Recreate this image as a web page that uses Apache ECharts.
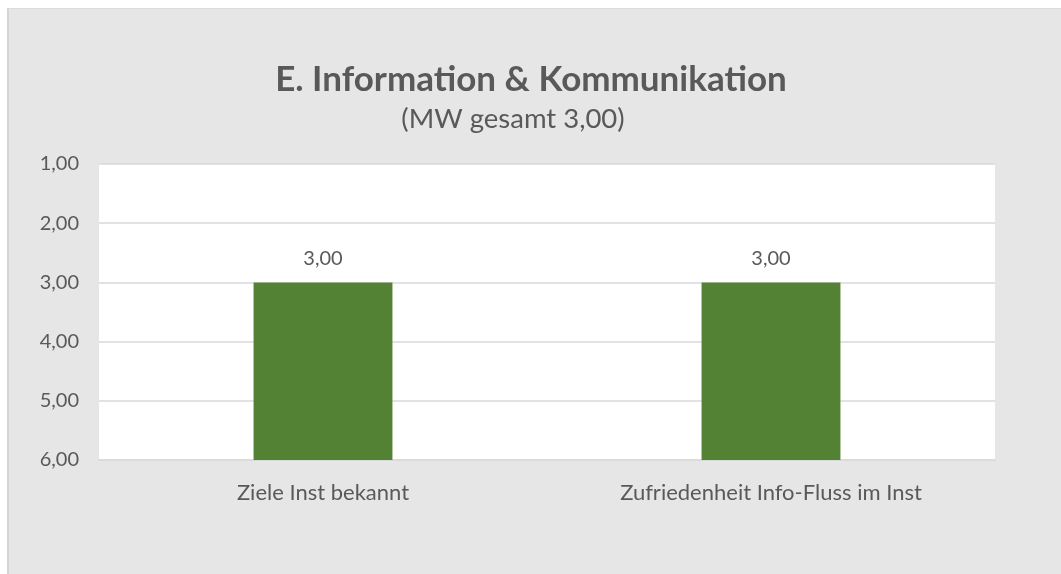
<!DOCTYPE html>
<html>
<head>
<meta charset="utf-8">
<script src="https://cdn.jsdelivr.net/npm/echarts@6/dist/echarts.min.js"></script>
<style>
  html, body { margin: 0; padding: 0; background: #fff; }
  #frame {
    position: absolute; left: 7px; top: 8px; width: 1054px; height: 566px;
    background: #e6e6e6; border-left: 2px solid #d4d4d4; border-top: 1px solid #dcdcdc;
    box-sizing: border-box;
  }
  #chart { position: absolute; left: 0; top: 0; width: 1061px; height: 574px; }
</style>
</head>
<body>
<div id="frame"></div>
<div id="chart"></div>
<script>
// Kategorien und Mittelwerte (Skala 1 = best, 6 = schlecht)
const categories = ['Ziele Inst bekannt', 'Zufriedenheit Info-Fluss im Inst']
const values = [3.00, 3.00]
const scaleMin = 1
const scaleMax = 6

const fmt = v => v.toFixed(2).replace('.', ',')
const textColor = '#595959'
const font = 'Lato'

const myChart = echarts.init(document.getElementById('chart'))

const option = {
  backgroundColor: 'transparent',
  textStyle: { fontFamily: font },
  title: [
    {
      text: 'E. Information & Kommunikation',
      left: 531,
      textAlign: 'center',
      top: 62,
      padding: 0,
      textStyle: { fontFamily: font, fontSize: 35, fontWeight: 'bold', color: textColor }
    },
    {
      text: '(MW gesamt ' + fmt(3.00) + ')',
      left: 513,
      textAlign: 'center',
      top: 105,
      padding: 0,
      textStyle: { fontFamily: font, fontSize: 27.5, fontWeight: 'normal', color: textColor }
    }
  ],
  grid: {
    left: 99,
    right: 66,
    top: 164,
    bottom: 114,
    show: true,
    backgroundColor: '#ffffff',
    borderWidth: 0
  },
  xAxis: {
    type: 'category',
    data: categories,
    axisLine: { lineStyle: { color: '#d9d9d9', width: 1.5 } },
    axisTick: { show: false },
    axisLabel: { color: textColor, fontSize: 22, fontFamily: font, margin: 22 }
  },
  yAxis: {
    type: 'value',
    inverse: true,
    min: scaleMin,
    max: scaleMax,
    interval: 1,
    axisLine: { show: false },
    axisTick: { show: false },
    splitLine: { lineStyle: { color: '#d9d9d9', width: 1.5 } },
    axisLabel: { color: textColor, fontSize: 20, fontFamily: font, margin: 20, formatter: fmt }
  },
  series: [
    {
      // unsichtbarer Sockel bis zum Mittelwert
      name: 'base',
      type: 'bar',
      stack: 'mw',
      silent: true,
      barWidth: '31%',
      itemStyle: { color: 'transparent' },
      data: values
    },
    {
      name: 'MW',
      type: 'bar',
      stack: 'mw',
      barWidth: '31%',
      itemStyle: { color: '#548235' },
      label: {
        show: true,
        position: 'top',
        distance: 14,
        color: textColor,
        fontSize: 20,
        fontFamily: font,
        formatter: p => fmt(values[p.dataIndex])
      },
      data: values.map(v => scaleMax - v)
    }
  ]
}

myChart.setOption(option)
</script>
</body>
</html>
